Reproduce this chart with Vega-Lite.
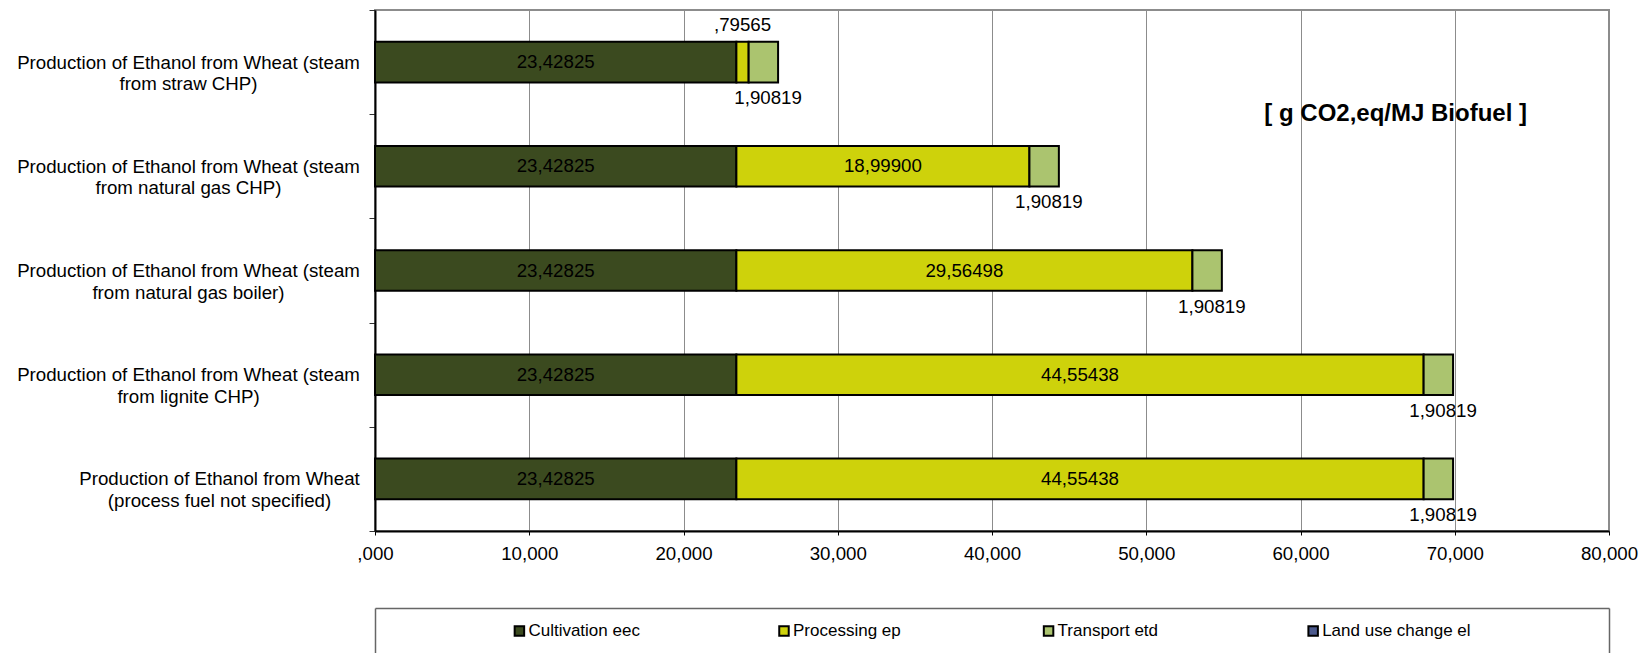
{
  "$schema": "https://vega.github.io/schema/vega-lite/v6.json",
  "background": "white",
  "padding": {"left": 15, "top": 0, "right": 5, "bottom": 0},
  "spacing": 44,
  "config": {
    "font": "Liberation Sans",
    "locale": {"number": {"decimal": ",", "thousands": ".", "grouping": [3], "currency": ["", ""]}},
    "view": {"stroke": "#8c8c8c", "strokeWidth": 2},
    "text": {"font": "Liberation Sans", "fontSize": 18.7, "color": "#000"}
  },
  "datasets": {
    "emissions": [
      {"pathway": "Production of Ethanol from Wheat (steam from straw CHP)", "series": "Cultivation eec", "value": 23.42825},
      {"pathway": "Production of Ethanol from Wheat (steam from straw CHP)", "series": "Processing ep", "value": 0.79565},
      {"pathway": "Production of Ethanol from Wheat (steam from straw CHP)", "series": "Transport etd", "value": 1.90819},
      {"pathway": "Production of Ethanol from Wheat (steam from natural gas CHP)", "series": "Cultivation eec", "value": 23.42825},
      {"pathway": "Production of Ethanol from Wheat (steam from natural gas CHP)", "series": "Processing ep", "value": 18.999},
      {"pathway": "Production of Ethanol from Wheat (steam from natural gas CHP)", "series": "Transport etd", "value": 1.90819},
      {"pathway": "Production of Ethanol from Wheat (steam from natural gas boiler)", "series": "Cultivation eec", "value": 23.42825},
      {"pathway": "Production of Ethanol from Wheat (steam from natural gas boiler)", "series": "Processing ep", "value": 29.56498},
      {"pathway": "Production of Ethanol from Wheat (steam from natural gas boiler)", "series": "Transport etd", "value": 1.90819},
      {"pathway": "Production of Ethanol from Wheat (steam from lignite CHP)", "series": "Cultivation eec", "value": 23.42825},
      {"pathway": "Production of Ethanol from Wheat (steam from lignite CHP)", "series": "Processing ep", "value": 44.55438},
      {"pathway": "Production of Ethanol from Wheat (steam from lignite CHP)", "series": "Transport etd", "value": 1.90819},
      {"pathway": "Production of Ethanol from Wheat (process fuel not specified)", "series": "Cultivation eec", "value": 23.42825},
      {"pathway": "Production of Ethanol from Wheat (process fuel not specified)", "series": "Processing ep", "value": 44.55438},
      {"pathway": "Production of Ethanol from Wheat (process fuel not specified)", "series": "Transport etd", "value": 1.90819}
    ],
    "series": [
      {"series": "Cultivation eec"},
      {"series": "Processing ep"},
      {"series": "Transport etd"},
      {"series": "Land use change el"}
    ]
  },
  "vconcat": [
    {
      "width": 1234,
      "height": 521,
      "data": {"name": "emissions"},
      "title": {
        "text": "[ g CO2,eq/MJ Biofuel ]",
        "orient": "top",
        "anchor": "end",
        "frame": "group",
        "baseline": "alphabetic",
        "offset": -144,
        "dx": -82,
        "font": "Liberation Sans",
        "fontSize": 24,
        "fontWeight": "bold",
        "color": "#000"
      },
      "encoding": {
        "y": {
          "field": "pathway",
          "type": "nominal",
          "sort": null,
          "scale": {"paddingInner": 0, "paddingOuter": 0},
          "axis": {
            "title": null,
            "domainColor": "#000",
            "domainWidth": 2,
            "tickBand": "extent",
            "tickSize": 6,
            "tickColor": "#333",
            "tickWidth": 1,
            "grid": false,
            "labelAlign": "center",
            "labelBaseline": "middle",
            "labelFont": "Liberation Sans",
            "labelFontSize": 18.7,
            "labelLineHeight": 21.6,
            "labelLimit": 0,
            "labelColor": "#000",
            "labelPadding": {"condition": {"test": "datum.value == 'Production of Ethanol from Wheat (process fuel not specified)'", "value": 150}, "value": 181},
            "labelExpr": "datum.label == 'Production of Ethanol from Wheat (process fuel not specified)' ? [slice(datum.label, 0, 32), slice(datum.label, 33)] : [slice(datum.label, 0, 39), slice(datum.label, 40)]"
          }
        }
      },
      "layer": [
        {
          "mark": {"type": "bar", "height": {"band": 0.39}, "stroke": "#000", "strokeWidth": 2},
          "encoding": {
            "x": {
              "field": "value",
              "type": "quantitative",
              "stack": "zero",
              "scale": {"domain": [0, 80], "nice": false},
              "axis": {
                "title": null,
                "values": [0, 10, 20, 30, 40, 50, 60, 70, 80],
                "format": ".3f",
                "labelExpr": "datum.value == 0 ? ',000' : datum.label",
                "labelFlush": false,
                "domainColor": "#000",
                "domainWidth": 2,
                "tickColor": "#000",
                "tickSize": 4,
                "labelFont": "Liberation Sans",
                "labelFontSize": 18.7,
                "labelColor": "#000",
                "labelPadding": 9,
                "grid": true,
                "gridColor": "#8c8c8c",
                "gridWidth": 1
              }
            },
            "order": {"field": "series", "type": "ordinal", "sort": "ascending"},
            "color": {
              "field": "series",
              "type": "nominal",
              "scale": {
                "domain": ["Cultivation eec", "Processing ep", "Transport etd", "Land use change el"],
                "range": ["#3b4a1f", "#ced20b", "#abc46f", "#4c5a8d"]
              },
              "legend": null
            }
          }
        },
        {
          "mark": {"type": "text", "baseline": "middle", "align": "center"},
          "encoding": {
            "x": {"field": "value", "type": "quantitative", "stack": "zero", "bandPosition": 0.5},
            "detail": {"field": "series"},
            "order": {"field": "series", "type": "ordinal", "sort": "ascending"},
            "text": {"field": "value", "type": "quantitative", "format": ".5f"},
            "opacity": {"condition": {"test": "datum.series != 'Transport etd' && datum.value > 5", "value": 1}, "value": 0}
          }
        },
        {
          "mark": {
            "type": "text", "baseline": "middle", "align": "center", "dy": -37,
            "text": {"expr": "slice(replace(format(datum.value, '.5f'), '.', ','), 1)"}
          },
          "encoding": {
            "x": {"field": "value", "type": "quantitative", "stack": "zero", "bandPosition": 0.5},
            "detail": {"field": "series"},
            "order": {"field": "series", "type": "ordinal", "sort": "ascending"},
            "opacity": {"condition": {"test": "datum.series == 'Processing ep' && datum.value < 5", "value": 1}, "value": 0}
          }
        },
        {
          "mark": {"type": "text", "baseline": "middle", "align": "center", "dy": 36, "dx": -10},
          "encoding": {
            "x": {"field": "value", "type": "quantitative", "stack": "zero"},
            "detail": {"field": "series"},
            "order": {"field": "series", "type": "ordinal", "sort": "ascending"},
            "text": {"field": "value", "type": "quantitative", "format": ".5f"},
            "opacity": {"condition": {"test": "datum.series == 'Transport etd'", "value": 1}, "value": 0}
          }
        }
      ]
    },
    {
      "width": 1234,
      "height": 46,
      "view": {"stroke": null},
      "data": {"name": "series"},
      "encoding": {
        "x": {
          "field": "series",
          "type": "nominal",
          "sort": null,
          "scale": {"type": "point", "padding": 0.832, "align": 0.328},
          "axis": {"orient": "top", "title": null, "labels": false, "ticks": false, "grid": false, "domain": true, "domainColor": "#666", "domainWidth": 1.5}
        }
      },
      "layer": [
        {
          "mark": {"type": "square", "size": 90, "filled": true, "opacity": 1, "stroke": "#000", "strokeWidth": 2},
          "encoding": {
            "y": {"datum": 0.5, "type": "quantitative", "scale": {"domain": [0, 1]}, "axis": {"orient": "left", "title": null, "labels": false, "ticks": false, "grid": false, "domain": true, "domainColor": "#666", "domainWidth": 1.5}},
            "color": {
              "field": "series",
              "type": "nominal",
              "scale": {
                "domain": ["Cultivation eec", "Processing ep", "Transport etd", "Land use change el"],
                "range": ["#3b4a1f", "#ced20b", "#abc46f", "#4c5a8d"]
              },
              "legend": null
            }
          }
        },
        {
          "mark": {"type": "text", "align": "left", "baseline": "middle", "dx": 9, "fontSize": 17},
          "encoding": {
            "y": {"datum": 0.5, "type": "quantitative", "scale": {"domain": [0, 1]}, "axis": {"orient": "right", "title": null, "labels": false, "ticks": false, "grid": false, "domain": true, "domainColor": "#666", "domainWidth": 1.5}},
            "text": {"field": "series"}
          }
        }
      ],
      "resolve": {"scale": {"y": "independent"}, "axis": {"y": "independent"}}
    }
  ]
}
